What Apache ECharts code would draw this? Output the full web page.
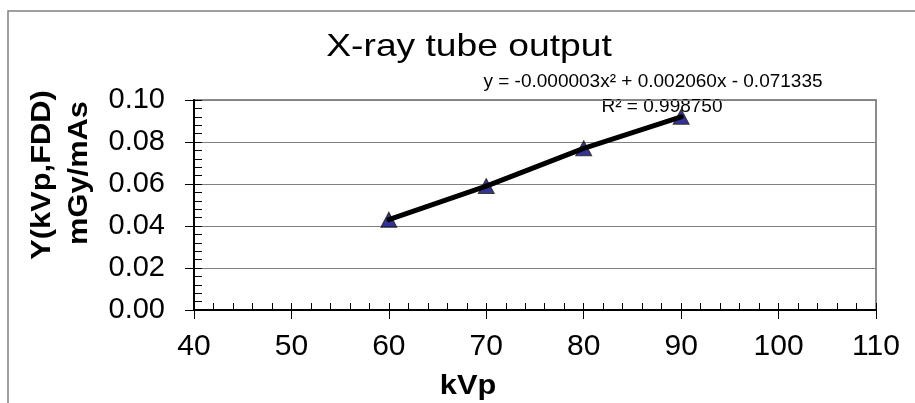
<!DOCTYPE html>
<html>
<head>
<meta charset="utf-8">
<title>X-ray tube output</title>
<script src="https://cdn.jsdelivr.net/npm/echarts@6/dist/echarts.min.js"></script>
<style>
  html, body { margin: 0; padding: 0; background: #fff; }
  #chart { width: 915px; height: 403px; }
</style>
</head>
<body>
<div id="chart"></div>
<script>
// data
const kvp = [60, 70, 80, 90];
const output = [0.043, 0.059, 0.077, 0.092];

// axis ranges
const xMin = 40, xMax = 110, xStep = 10;
const yMin = 0, yMax = 0.1, yStep = 0.02;

// texts
const titleText = 'X-ray tube output';
const eqText = 'y = -0.000003x² + 0.002060x - 0.071335';
const r2Text = 'R² = 0.998750';
const yNameLines = ['Y(kVp,FDD)', 'mGy/mAs'];
const xNameText = 'kVp';

const FONT = 'Liberation Sans, Arial, sans-serif';
const points = kvp.map((k, i) => [k, output[i]]);

const chart = echarts.init(document.getElementById('chart'));

// two axes per direction: one carries labels + inside ticks, the other only the outer half of the major ticks
const tickStyle = { color: '#000', width: 1 };

const option = {
  animation: false,
  backgroundColor: '#fff',
  grid: {
    left: 194, right: 39, top: 100, bottom: 93,
    show: true, borderColor: '#8c8c8c', borderWidth: 2,
    outerBoundsMode: 'none'
  },
  xAxis: [{
    type: 'value', min: xMin, max: xMax, interval: xStep,
    axisLine: { lineStyle: { color: '#000', width: 2 } },
    axisTick: { inside: true, length: 7, lineStyle: tickStyle },
    minorTick: { show: true, splitNumber: 5, length: 7, lineStyle: tickStyle },
    axisLabel: { margin: 22, fontSize: 30, color: '#000', fontFamily: FONT },
    splitLine: { show: false }
  }, {
    type: 'value', position: 'bottom', min: xMin, max: xMax, interval: xStep,
    axisLine: { show: false },
    axisTick: { inside: false, length: 9, lineStyle: tickStyle },
    axisLabel: { show: false },
    splitLine: { show: false }
  }],
  yAxis: [{
    type: 'value', min: yMin, max: yMax, interval: yStep,
    axisLine: { show: true, lineStyle: { color: '#000', width: 2 } },
    axisTick: { show: true, inside: true, length: 8, lineStyle: tickStyle },
    minorTick: { show: true, splitNumber: 5, length: 8, lineStyle: tickStyle },
    axisLabel: {
      margin: 29, fontSize: 29, color: '#000', fontFamily: FONT,
      formatter: v => v.toFixed(2)
    },
    splitLine: { show: true, lineStyle: { color: '#808080', width: 1 } }
  }, {
    type: 'value', position: 'left', min: yMin, max: yMax, interval: yStep,
    axisLine: { show: false },
    axisTick: { show: true, inside: false, length: 9, lineStyle: tickStyle },
    axisLabel: { show: false },
    splitLine: { show: false }
  }],
  series: [{
    name: 'output',
    type: 'scatter',
    xAxisIndex: 0, yAxisIndex: 0,
    data: points,
    symbol: 'triangle',
    symbolSize: [16, 15],
    itemStyle: { color: '#000080', borderColor: '#222200', borderWidth: 1 },
    z: 2
  }, {
    name: 'trend',
    type: 'line',
    xAxisIndex: 0, yAxisIndex: 0,
    data: points,
    showSymbol: false,
    symbol: 'none',
    lineStyle: { color: '#000', width: 5, cap: 'round' },
    z: 3
  }],
  graphic: [
    {
      type: 'rect', silent: true,
      shape: { x: 8, y: 11, width: 1000, height: 1000 },
      style: { fill: 'none', stroke: '#808080', lineWidth: 1.5 }
    },
    {
      type: 'text', x: 469, y: 48, scaleX: 1.22,
      style: {
        text: titleText, fill: '#000', fontSize: 30.5, fontFamily: FONT,
        align: 'center', verticalAlign: 'middle',
        textAlign: 'center', textVerticalAlign: 'middle'
      }
    },
    {
      type: 'text', x: 653, y: 82,
      style: {
        text: eqText, fill: '#000', fontSize: 19, fontFamily: FONT,
        align: 'center', verticalAlign: 'middle',
        textAlign: 'center', textVerticalAlign: 'middle'
      }
    },
    {
      type: 'text', x: 662, y: 107,
      style: {
        text: r2Text, fill: '#000', fontSize: 19, fontFamily: FONT,
        align: 'center', verticalAlign: 'middle',
        textAlign: 'center', textVerticalAlign: 'middle'
      }
    },
    {
      type: 'text', x: 42, y: 175, rotation: Math.PI / 2, scaleX: 1.1,
      style: {
        text: yNameLines[0], fill: '#000', fontSize: 28, fontWeight: 'bold', fontFamily: FONT,
        align: 'center', verticalAlign: 'middle',
        textAlign: 'center', textVerticalAlign: 'middle'
      }
    },
    {
      type: 'text', x: 79, y: 173, rotation: Math.PI / 2, scaleX: 1.1,
      style: {
        text: yNameLines[1], fill: '#000', fontSize: 28, fontWeight: 'bold', fontFamily: FONT,
        align: 'center', verticalAlign: 'middle',
        textAlign: 'center', textVerticalAlign: 'middle'
      }
    },
    {
      type: 'text', x: 468, y: 386, scaleX: 1.1,
      style: {
        text: xNameText, fill: '#000', fontSize: 28, fontWeight: 'bold', fontFamily: FONT,
        align: 'center', verticalAlign: 'middle',
        textAlign: 'center', textVerticalAlign: 'middle'
      }
    }
  ]
};

chart.setOption(option);
</script>
</body>
</html>
